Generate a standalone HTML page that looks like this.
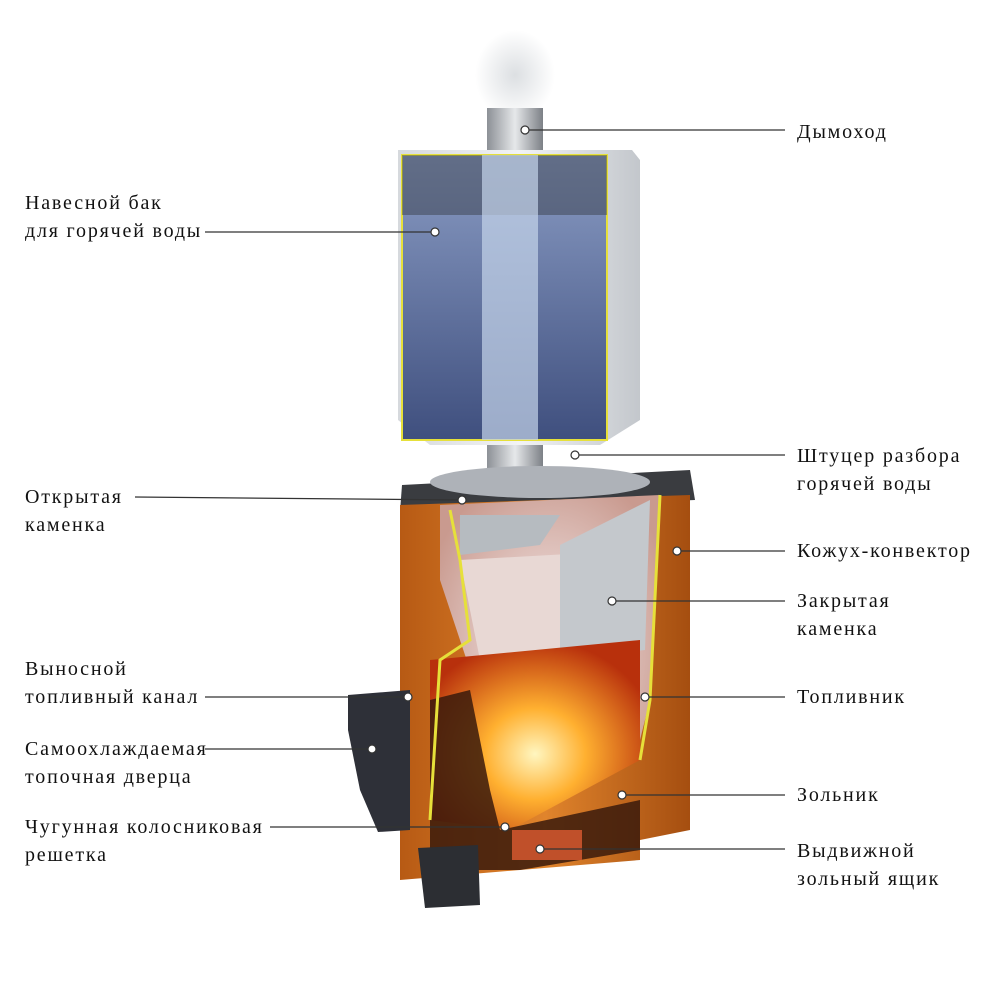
<!DOCTYPE html>
<html><head><meta charset="utf-8"><style>
html,body{margin:0;padding:0;background:#fff;}
.w{position:relative;width:1000px;height:1000px;overflow:hidden;}
svg{position:absolute;left:0;top:0;}
.t{position:absolute;font-family:"Liberation Serif",serif;font-size:20px;letter-spacing:1.8px;color:#111;line-height:28px;white-space:nowrap;}
</style></head><body><div class="w">
<svg width="1000" height="1000" viewBox="0 0 1000 1000">
<defs>
<linearGradient id="tank" x1="0" x2="1"><stop offset="0" stop-color="#d6d9dd"/><stop offset="0.5" stop-color="#f2f3f5"/><stop offset="1" stop-color="#c3c7cc"/></linearGradient>
<linearGradient id="water" x1="0" x2="0" y1="0" y2="1"><stop offset="0" stop-color="#8a9cc4"/><stop offset="1" stop-color="#3f4f7e"/></linearGradient>
<linearGradient id="pipe" x1="0" x2="1"><stop offset="0" stop-color="#8c9096"/><stop offset="0.5" stop-color="#e6e8ea"/><stop offset="1" stop-color="#7c8086"/></linearGradient>
<linearGradient id="body" x1="0" x2="1"><stop offset="0" stop-color="#b75a14"/><stop offset="0.5" stop-color="#e0842c"/><stop offset="1" stop-color="#a54e10"/></linearGradient>
<radialGradient id="fire" cx="0.5" cy="0.6" r="0.6"><stop offset="0" stop-color="#fff6c0"/><stop offset="0.4" stop-color="#ffb030"/><stop offset="1" stop-color="#b8300c"/></radialGradient>
<radialGradient id="smoke" cx="0.5" cy="0.5" r="0.6"><stop offset="0" stop-color="#f6eeee"/><stop offset="1" stop-color="#c99a8f"/></radialGradient>
<radialGradient id="steam" cx="0.5" cy="0.5" r="0.5"><stop offset="0" stop-color="#dcdfe2"/><stop offset="1" stop-color="#ffffff"/></radialGradient>
</defs>
<ellipse cx="515" cy="75" rx="40" ry="45" fill="url(#steam)"/>
<rect x="487" y="108" width="56" height="45" fill="url(#pipe)"/>
<path d="M398 150 L632 150 L640 160 L640 420 L600 445 L430 445 L398 420 Z" fill="url(#tank)"/>
<rect x="402" y="155" width="205" height="285" fill="url(#water)" stroke="#e6e03a" stroke-width="2"/>
<rect x="402" y="155" width="205" height="60" fill="#3a3f4c" opacity="0.5"/>
<rect x="482" y="155" width="56" height="285" fill="#c4d4ea" opacity="0.7"/>
<rect x="487" y="445" width="56" height="45" fill="url(#pipe)"/>
<path d="M402 485 L690 470 L695 500 L400 512 Z" fill="#3a3c40"/>
<ellipse cx="540" cy="482" rx="110" ry="16" fill="#aeb2b8"/>
<path d="M400 505 L690 495 L690 830 L640 840 L640 860 L400 880 Z" fill="url(#body)"/>
<path d="M440 505 L660 495 L650 700 L635 760 L600 780 L520 800 L495 790 L480 700 L440 580 Z" fill="url(#smoke)"/>
<path d="M460 515 L560 515 L540 545 L460 555 Z" fill="#b6bbc0"/>
<path d="M460 560 L640 550 L640 650 L555 670 L480 660 Z" fill="#e8d8d4"/>
<path d="M560 545 L650 500 L645 650 L560 660 Z" fill="#c4c8cc"/>
<path d="M430 660 L640 640 L640 760 L510 830 L430 820 Z" fill="url(#fire)"/>
<path d="M430 700 L470 690 L490 790 L500 830 L640 800 L640 850 L520 870 L430 870 Z" fill="#3a1a0c" opacity="0.85"/>
<rect x="512" y="830" width="70" height="30" fill="#c0502a"/>
<path d="M450 510 L460 560 L470 640 L440 660 L430 820" fill="none" stroke="#e6e03a" stroke-width="3"/>
<path d="M660 495 L650 700 L640 760" fill="none" stroke="#e6e03a" stroke-width="3"/>
<path d="M348 695 L410 690 L410 830 L378 832 L360 790 L348 730 Z" fill="#2e3038"/>
<path d="M418 848 L478 845 L480 905 L425 908 Z" fill="#2c2e33"/>
<g stroke="#333" stroke-width="1.2" fill="#fff">
<line x1="525" y1="130" x2="785" y2="130"/>
<line x1="205" y1="232" x2="435" y2="232"/>
<line x1="575" y1="455" x2="785" y2="455"/>
<line x1="135" y1="497" x2="462" y2="500"/>
<line x1="677" y1="551" x2="785" y2="551"/>
<line x1="612" y1="601" x2="785" y2="601"/>
<line x1="205" y1="697" x2="408" y2="697"/>
<line x1="645" y1="697" x2="785" y2="697"/>
<line x1="205" y1="749" x2="372" y2="749"/>
<line x1="622" y1="795" x2="785" y2="795"/>
<line x1="270" y1="827" x2="505" y2="827"/>
<line x1="540" y1="849" x2="785" y2="849"/>
<circle cx="525" cy="130" r="4"/><circle cx="435" cy="232" r="4"/><circle cx="575" cy="455" r="4"/>
<circle cx="462" cy="500" r="4"/><circle cx="677" cy="551" r="4"/><circle cx="612" cy="601" r="4"/>
<circle cx="408" cy="697" r="4"/><circle cx="645" cy="697" r="4"/><circle cx="372" cy="749" r="4"/>
<circle cx="622" cy="795" r="4"/><circle cx="505" cy="827" r="4"/><circle cx="540" cy="849" r="4"/>
</g>
</svg>
<div class="t" style="left:797px;top:118px">Дымоход</div>
<div class="t" style="left:25px;top:189px">Навесной бак<br>для горячей воды</div>
<div class="t" style="left:797px;top:442px">Штуцер разбора<br>горячей воды</div>
<div class="t" style="left:25px;top:483px">Открытая<br>каменка</div>
<div class="t" style="left:797px;top:537px">Кожух-конвектор</div>
<div class="t" style="left:797px;top:587px">Закрытая<br>каменка</div>
<div class="t" style="left:25px;top:655px">Выносной<br>топливный канал</div>
<div class="t" style="left:797px;top:683px">Топливник</div>
<div class="t" style="left:25px;top:735px">Самоохлаждаемая<br>топочная дверца</div>
<div class="t" style="left:797px;top:781px">Зольник</div>
<div class="t" style="left:25px;top:813px">Чугунная колосниковая<br>решетка</div>
<div class="t" style="left:797px;top:837px">Выдвижной<br>зольный ящик</div>
</div></body></html>
